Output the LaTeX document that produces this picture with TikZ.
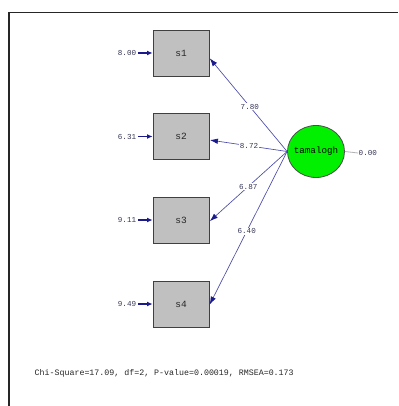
\documentclass[tikz,border=0pt]{standalone}
\usepackage{fontspec}
\newfontfamily\monof{Liberation Mono}
\usetikzlibrary{arrows.meta,shapes.geometric}
\definecolor{navy}{HTML}{1A1A8C}
\definecolor{linkc}{HTML}{4A4AA8}
\definecolor{numc}{HTML}{383858}
\definecolor{boxfill}{HTML}{C0C0C0}
\definecolor{latfill}{HTML}{00F000}
\tikzset{
  obs/.style={draw=black!75, line width=0.9pt, fill=boxfill, minimum width=56pt, minimum height=46pt, inner sep=0pt, font=\monof\fontsize{9.5}{10}\selectfont, text=black!85},
  lat/.style={ellipse, draw=black!70, line width=0.8pt, fill=latfill, minimum width=57pt, minimum height=52pt, inner sep=-2pt, font=\monof\fontsize{9.2}{10}\selectfont},
  num/.style={font=\monof\fontsize{7.6}{8}\selectfont, text=numc, inner sep=0.5pt},
  lbl/.style={num, fill=white, inner sep=0.8pt},
  errarr/.style={draw=navy, line width=1.3pt, -{Latex[length=5.5pt,width=5pt]}},
  load/.style={draw=linkc, line width=0.65pt, -{Latex[length=8pt,width=5.5pt,color=navy]}, shorten >=0.5pt},
}
\begin{document}
\begin{tikzpicture}[x=1pt,y=-1pt]
\useasboundingbox (0,0) rectangle (398,406);
\fill[white] (0,0) rectangle (398,406);
\draw[black!85, line width=1.4pt] (9,406) -- (9,12.5) -- (398,12.5);

\node[obs] (s1) at (181,53) {s1};
\node[obs] (s2) at (181,136.5) {s2};
\node[obs] (s3) at (181,220) {s3};
\node[obs] (s4) at (181,304) {s4};

\node[num] (e1) at (127,53) {8.00};
\node[num] (e2) at (127,136.5) {6.31};
\node[num] (e3) at (127,220) {9.11};
\node[num] (e4) at (127,304) {9.49};

\draw[errarr] (e1.east) ++(1.5,0) coordinate (e1a) (e1a) -- (s1.west);
\draw[errarr] (e2.east) ++(1.5,0) coordinate (e2a) (e2a) -- (s2.west);
\draw[errarr] (e3.east) ++(1.5,0) coordinate (e3a) (e3a) -- (s3.west);
\draw[errarr] (e4.east) ++(1.5,0) coordinate (e4a) (e4a) -- (s4.west);

\node[lat] (tam) at (316,151.5) {tamalogh};
\node[num, anchor=west] (t0) at (358,153) {0.00};
\draw[black!30, line width=0.8pt] (tam.east) -- (t0.west);

\draw[load] (tam.west) -- node[lbl, pos=0.48] {7.80} (s1.-10);
\draw[load] (tam.west) -- node[lbl, pos=0.49] {8.72} (s2.-7);
\draw[load] (tam.west) -- node[lbl, pos=0.5] {6.87} (s3.-3);
\draw[load] (tam.west) -- node[lbl, pos=0.52] {6.40} (s4.-2);

\node[num, anchor=west, text=black!85, font=\monof\fontsize{8.3}{9}\selectfont] (fit) at (34,373) {Chi-Square=17.09, df=2, P-value=0.00019, RMSEA=0.173};
\end{tikzpicture}
\end{document}
